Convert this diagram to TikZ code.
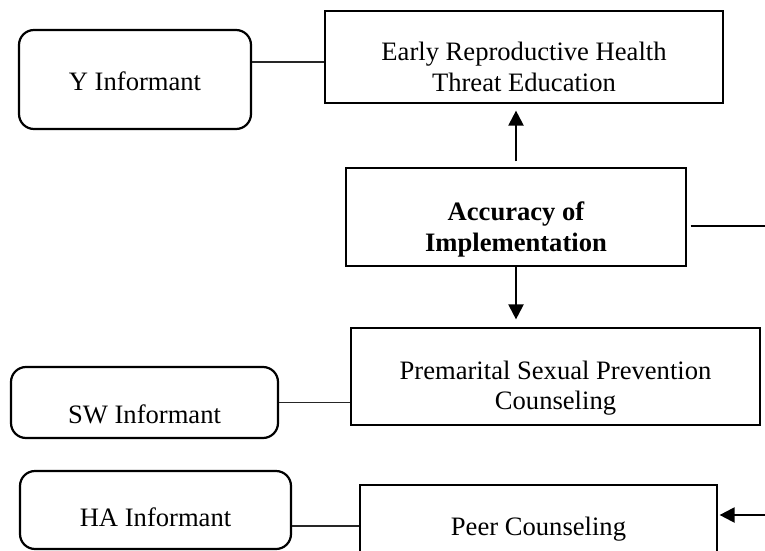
\documentclass[tikz,border=0pt]{standalone}
\usepackage{fontspec}
\setmainfont{Liberation Serif}
\usetikzlibrary{arrows.meta}

\tikzset{
  plain/.style={draw, line width=0.6pt, rectangle, align=center},
  informant/.style={draw, line width=1.1pt, rounded corners=7.5pt, align=center},
  textdrop/.style={text height=#1, text depth=0pt},
  link/.style={line width=0.6pt, black!85},
  flow/.style={line width=1.1pt, -{Triangle[length=7.5pt,width=7.5pt]}},
}

\begin{document}
\begin{tikzpicture}[x=0.5pt, y=-0.5pt, font=\fontsize{13.3}{15.3}\selectfont]
    \useasboundingbox (0,0) rectangle (765,551);

    % centre
    \node[plain, font=\fontsize{13.3}{15.3}\selectfont\bfseries, minimum width=170pt, minimum height=49pt, textdrop=34.1pt] (acc) at (516,217) {Accuracy of\\Implementation};

    % programme boxes
    \node[plain, minimum width=199pt, minimum height=46pt, textdrop=34.1pt] (early) at (524,57) {Early Reproductive Health\\Threat Education};
    \node[plain, minimum width=204.5pt, minimum height=48.5pt, textdrop=33.1pt] (prem) at (555.5,376.5) {Premarital Sexual Prevention\\Counseling};
    \node[plain, minimum width=178.5pt, minimum height=33.5pt, textdrop=17.3pt] (peer) at (538.5,518.5) {Peer Counseling};

    % informants
    \node[informant, minimum width=116pt, minimum height=49.5pt, textdrop=11.3pt] (yinf) at (135,79.5) {Y Informant};
    \node[informant, minimum width=133.5pt, minimum height=35.5pt, textdrop=20.8pt] (swinf) at (144.5,402.5) {SW Informant};
    \node[informant, minimum width=135.5pt, minimum height=39pt, textdrop=16.8pt] (hainf) at (155.5,510) {HA Informant};

    % free ends at the right rim
    \coordinate (accend) at (765,226);
    \coordinate (peerin) at (765,515);

    % arrows
    \draw[flow, shorten <=3pt, shorten >=3.5pt] (acc.north) -- (acc.north |- early.south);
    \draw[flow, shorten >=4pt] (acc.south) -- (acc.south |- prem.north);
    \draw[line width=1.1pt, shorten <=2pt] ([yshift=-4.5pt]acc.east) -- (accend);
    \draw[flow, shorten >=1pt] (peerin) -- (peerin -| peer.east);

    % informant links
    \draw[link] ([yshift=-2.5pt]early.west) -- ([yshift=-2.5pt]early.west -| yinf.east);
    \draw[link] (swinf.east) -- (swinf.east -| prem.west);
    \draw[link] ([yshift=-3.75pt]peer.west) -- ([yshift=-3.75pt]peer.west -| hainf.east);
\end{tikzpicture}
\end{document}
